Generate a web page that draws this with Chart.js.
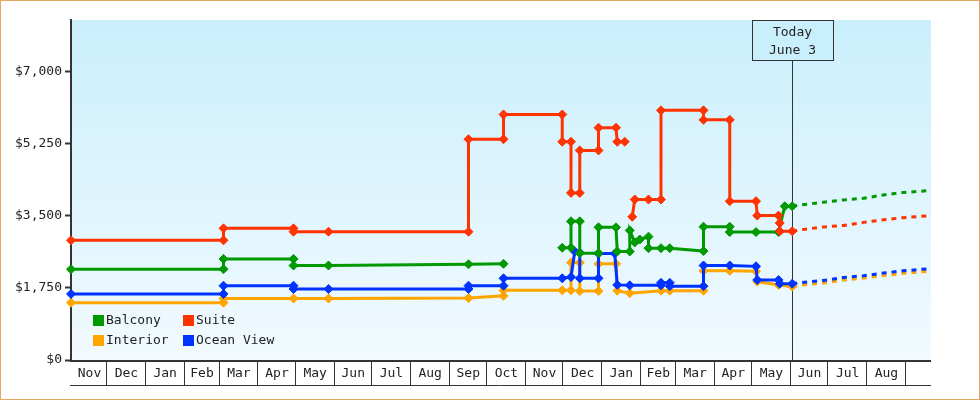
<!DOCTYPE html>
<html>
<head>
<meta charset="utf-8">
<script src="https://cdn.jsdelivr.net/npm/chart.js@4.4.1/dist/chart.umd.min.js"></script>
<style>
  html, body { margin: 0; padding: 0; background: #fff; }
  canvas { display: block; }
</style>
</head>
<body>
<canvas id="chart" width="980" height="400"></canvas>
<script>
// month cells under the plot (first one starts at axis min)
const monthLabels = ['Nov', 'Dec', 'Jan', 'Feb', 'Mar', 'Apr', 'May', 'Jun', 'Jul', 'Aug', 'Sep',
  'Oct', 'Nov', 'Dec', 'Jan', 'Feb', 'Mar', 'Apr', 'May', 'Jun', 'Jul', 'Aug']
const yTicks = [0, 1750, 3500, 5250, 7000]
const axisStart = '2021-11-03'
const axisEnd = '2023-09-22'
const today = '2023-06-03'
const todayText = ['Today', 'June 3']

// price history: [date, price], null = no data
const balcony = [
  ['2021-11-03', 2200], ['2022-03-05', 2200], ['2022-03-05', 2450], ['2022-04-30', 2450],
  ['2022-04-30', 2290], ['2022-05-28', 2290], ['2022-09-17', 2320], ['2022-10-15', 2330],
  ['2022-11-01', null],
  ['2022-12-01', 2720], ['2022-12-08', 2720], ['2022-12-08', 3360], ['2022-12-15', 3360],
  ['2022-12-15', 2590], ['2022-12-30', 2590], ['2022-12-30', 3215], ['2023-01-13', 3215],
  ['2023-01-14', 2630], ['2023-01-24', 2630], ['2023-01-24', 3140], ['2023-01-28', 2850],
  ['2023-02-01', 2920], ['2023-02-08', 2990], ['2023-02-08', 2710], ['2023-02-18', 2710],
  ['2023-02-25', 2710], ['2023-03-24', 2640], ['2023-03-24', 3230], ['2023-04-14', 3230],
  ['2023-04-14', 3100], ['2023-05-05', 3100], ['2023-05-23', 3100], ['2023-05-28', 3725],
  ['2023-06-03', 3725]
]
const suite = [
  ['2021-11-03', 2900], ['2022-03-05', 2900], ['2022-03-05', 3190], ['2022-04-30', 3190],
  ['2022-04-30', 3110], ['2022-05-28', 3110], ['2022-09-17', 3110], ['2022-09-17', 5350],
  ['2022-10-15', 5350], ['2022-10-15', 5950], ['2022-12-01', 5950], ['2022-12-01', 5290],
  ['2022-12-08', 5290], ['2022-12-08', 4050], ['2022-12-15', 4050], ['2022-12-15', 5080],
  ['2022-12-30', 5080], ['2022-12-30', 5630], ['2023-01-13', 5630], ['2023-01-14', 5290],
  ['2023-01-20', 5290],
  ['2023-01-23', null],
  ['2023-01-26', 3470], ['2023-01-28', 3890], ['2023-02-08', 3890], ['2023-02-18', 3890],
  ['2023-02-18', 6050], ['2023-03-24', 6050], ['2023-03-24', 5820], ['2023-04-14', 5820],
  ['2023-04-14', 3850], ['2023-05-05', 3850], ['2023-05-06', 3500], ['2023-05-23', 3500],
  ['2023-05-24', 3320], ['2023-05-24', 3120], ['2023-06-03', 3120]
]
const interior = [
  ['2021-11-03', 1390], ['2022-03-05', 1390], ['2022-03-05', 1490], ['2022-04-30', 1490],
  ['2022-05-28', 1490], ['2022-09-17', 1500], ['2022-10-15', 1555], ['2022-10-15', 1690],
  ['2022-12-01', 1690], ['2022-12-08', 1690], ['2022-12-08', 2360], ['2022-12-15', 2360],
  ['2022-12-15', 1670], ['2022-12-30', 1670], ['2022-12-30', 2330], ['2023-01-13', 2330],
  ['2023-01-14', 1680], ['2023-01-24', 1620], ['2023-02-18', 1680], ['2023-02-25', 1680],
  ['2023-03-24', 1680], ['2023-03-24', 2160], ['2023-04-14', 2160], ['2023-05-05', 2150],
  ['2023-05-06', 1900], ['2023-05-23', 1820], ['2023-06-03', 1780]
]
const oceanView = [
  ['2021-11-03', 1600], ['2022-03-05', 1600], ['2022-03-05', 1800], ['2022-04-30', 1800],
  ['2022-04-30', 1720], ['2022-05-28', 1720], ['2022-09-17', 1720], ['2022-09-17', 1800],
  ['2022-10-15', 1800], ['2022-10-15', 1980], ['2022-12-01', 1980], ['2022-12-08', 2010],
  ['2022-12-11', 2630], ['2022-12-15', 2600], ['2022-12-15', 1980], ['2022-12-30', 1980],
  ['2022-12-30', 2580], ['2023-01-12', 2580], ['2023-01-14', 1820], ['2023-01-24', 1810],
  ['2023-02-18', 1810], ['2023-02-18', 1870], ['2023-02-25', 1870], ['2023-02-25', 1790],
  ['2023-03-24', 1790], ['2023-03-24', 2290], ['2023-04-14', 2290], ['2023-05-05', 2270],
  ['2023-05-06', 1940], ['2023-05-23', 1940], ['2023-05-24', 1850], ['2023-06-03', 1850]
]

// forecast after today (dashed)
const balconyTrend = [
  ['2023-06-03', 3725], ['2023-06-11', 3760], ['2023-06-28', 3825], ['2023-07-14', 3880],
  ['2023-07-30', 3920], ['2023-08-15', 4000], ['2023-08-31', 4060], ['2023-09-22', 4110]
]
const suiteTrend = [
  ['2023-06-03', 3120], ['2023-06-11', 3160], ['2023-06-28', 3225], ['2023-07-14', 3260],
  ['2023-07-30', 3335], ['2023-08-15', 3400], ['2023-08-31', 3450], ['2023-09-22', 3500]
]
const interiorTrend = [
  ['2023-06-03', 1780], ['2023-06-11', 1820], ['2023-06-28', 1865], ['2023-07-14', 1940],
  ['2023-07-30', 1985], ['2023-08-15', 2045], ['2023-08-31', 2100], ['2023-09-22', 2155]
]
const oceanViewTrend = [
  ['2023-06-03', 1850], ['2023-06-11', 1880], ['2023-06-28', 1927], ['2023-07-14', 2000],
  ['2023-07-30', 2042], ['2023-08-15', 2107], ['2023-08-31', 2163], ['2023-09-22', 2215]
]

const GREEN = '#009900'
const RED = '#ff3300'
const ORANGE = '#ffa500'
const BLUE = '#0033ff'
const INK = '#333'
const FONT = '13px "DejaVu Sans Mono", monospace'

function day(s) {
  const [y, m, d] = s.split('-').map(Number)
  const [y0, m0, d0] = axisStart.split('-').map(Number)
  return (Date.UTC(y, m - 1, d) - Date.UTC(y0, m0 - 1, d0)) / 86400000
}
const toXY = rows => rows.map(([d, v]) => ({ x: day(d), y: v }))

function series(label, rows, color) {
  return {
    label, data: toXY(rows), borderColor: color, backgroundColor: color,
    borderWidth: 3, pointStyle: 'rectRot', pointRadius: 4.5, pointBorderWidth: 1,
    pointBackgroundColor: color, pointBorderColor: color, spanGaps: false, clip: false
  }
}
function trend(rows, color) {
  return {
    label: '', data: toXY(rows), borderColor: color, borderWidth: 3,
    borderDash: [5, 5], pointRadius: 0, clip: false
  }
}

const legendItems = [
  { label: 'Balcony', color: GREEN }, { label: 'Suite', color: RED },
  { label: 'Interior', color: ORANGE }, { label: 'Ocean View', color: BLUE }
]

const decor = {
  id: 'decor',
  beforeDraw(chart) {
    const { ctx, chartArea: a } = chart
    ctx.save()
    ctx.fillStyle = '#fff'
    ctx.fillRect(0, 0, chart.width, chart.height)
    const g = ctx.createLinearGradient(0, a.top, 0, a.bottom)
    g.addColorStop(0, '#caeffc')
    g.addColorStop(1, '#f2faff')
    ctx.fillStyle = g
    ctx.fillRect(a.left, a.top, a.right - a.left, a.bottom - a.top)
    ctx.restore()
  },
  beforeDatasetsDraw(chart) {
    const { ctx, chartArea: a, scales } = chart
    const x = Math.round(scales.x.getPixelForValue(day(today))) + 0.5
    ctx.save()
    ctx.strokeStyle = INK
    ctx.lineWidth = 1
    ctx.beginPath()
    ctx.moveTo(x, a.top + 40)
    ctx.lineTo(x, a.bottom)
    ctx.stroke()
    ctx.restore()
  },
  afterDraw(chart) {
    const { ctx, chartArea: a, scales } = chart
    const xs = scales.x
    ctx.save()
    ctx.font = FONT
    ctx.textBaseline = 'middle'

    // x axis line
    ctx.strokeStyle = INK
    ctx.lineWidth = 2
    ctx.beginPath()
    ctx.moveTo(a.left - 1, a.bottom + 1)
    ctx.lineTo(a.right, a.bottom + 1)
    ctx.stroke()

    // month cells
    const [y0, m0] = axisStart.split('-').map(Number)
    const cellBottom = a.bottom + 25.5
    ctx.lineWidth = 1
    ctx.beginPath()
    ctx.moveTo(a.left - 1, cellBottom)
    ctx.lineTo(a.right, cellBottom)
    ctx.stroke()
    ctx.fillStyle = '#222'
    ctx.textAlign = 'center'
    monthLabels.forEach((lab, i) => {
      const left = i === 0 ? a.left : xs.getPixelForValue((Date.UTC(y0, m0 - 1 + i, 1) - Date.UTC(y0, m0 - 1, 3)) / 86400000)
      const right = xs.getPixelForValue((Date.UTC(y0, m0 + i, 1) - Date.UTC(y0, m0 - 1, 3)) / 86400000)
      const sx = Math.round(right) + 0.5
      ctx.beginPath()
      ctx.moveTo(sx, a.bottom + 2)
      ctx.lineTo(sx, cellBottom)
      ctx.stroke()
      ctx.fillText(lab, (left + right) / 2 + 1, a.bottom + 13.5)
    })

    // legend inside the plot
    ctx.textAlign = 'left'
    legendItems.forEach((it, i) => {
      const lx = a.left + 22 + (i % 2) * 90
      const ly = a.bottom - 45 + Math.floor(i / 2) * 20
      ctx.fillStyle = it.color
      ctx.fillRect(lx, ly, 11, 11)
      ctx.fillStyle = '#222'
      ctx.fillText(it.label, lx + 13, ly + 6)
    })

    // today box
    const tx = Math.round(xs.getPixelForValue(day(today))) + 0.5
    ctx.fillStyle = '#caeffc'
    ctx.fillRect(tx - 40, a.top, 81, 40)
    ctx.strokeStyle = INK
    ctx.strokeRect(tx - 40, a.top + 0.5, 81, 40)
    ctx.fillStyle = '#222'
    ctx.textAlign = 'center'
    ctx.fillText(todayText[0], tx, a.top + 12.5)
    ctx.fillText(todayText[1], tx, a.top + 30.5)

    // outer frame
    ctx.strokeStyle = '#e6a862'
    ctx.strokeRect(0.5, 0.5, chart.width - 1, chart.height - 1)
    ctx.restore()
  }
}

new Chart(document.getElementById('chart'), {
  type: 'line',
  data: {
    datasets: [
      series('Suite', suite, RED),
      series('Balcony', balcony, GREEN),
      series('Ocean View', oceanView, BLUE),
      series('Interior', interior, ORANGE),
      trend(suiteTrend, RED),
      trend(balconyTrend, GREEN),
      trend(oceanViewTrend, BLUE),
      trend(interiorTrend, ORANGE)
    ]
  },
  options: {
    responsive: false,
    animation: false,
    devicePixelRatio: 1,
    events: [],
    layout: { padding: { top: 20, right: 49, bottom: 40, left: 0 } },
    elements: { line: { tension: 0 } },
    plugins: { legend: { display: false }, tooltip: { enabled: false } },
    scales: {
      x: { type: 'linear', min: 0, max: day(axisEnd), display: false },
      y: {
        min: 0,
        max: 8240,
        afterBuildTicks: s => { s.ticks = yTicks.map(v => ({ value: v })) },
        afterFit: s => { s.width = 71 },
        grid: { drawOnChartArea: false, drawTicks: true, tickLength: 6, tickWidth: 2, color: INK },
        border: { color: INK, width: 2 },
        ticks: {
          color: '#222',
          font: { family: 'DejaVu Sans Mono', size: 13 },
          padding: 3,
          callback: v => '$' + v.toLocaleString('en-US')
        }
      }
    }
  },
  plugins: [decor]
})
</script>
</body>
</html>
